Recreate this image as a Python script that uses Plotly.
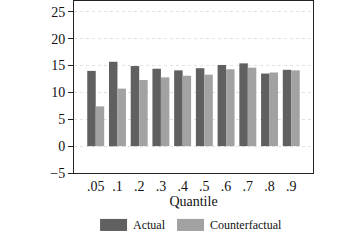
import plotly.graph_objects as go

quantiles = [".05", ".1", ".2", ".3", ".4", ".5", ".6", ".7", ".8", ".9"]
actual = [14.0, 15.7, 14.9, 14.4, 14.1, 14.5, 15.1, 15.4, 13.5, 14.2]
counterfactual = [7.4, 10.7, 12.3, 12.8, 13.1, 13.3, 14.3, 14.6, 13.7, 14.1]
series_names = ["Actual", "Counterfactual"]
colors = ["#606060", "#a2a2a2"]
y_ticks = [-5, 0, 5, 10, 15, 20, 25]

fig = go.Figure()
for name, vals, c in zip(series_names, [actual, counterfactual], colors):
    fig.add_trace(go.Bar(x=quantiles, y=vals, name=name, marker_color=c,
                         marker_line_width=0, showlegend=False))

font = dict(family="Liberation Serif, Times New Roman, serif", size=14, color="#111")
fig.update_layout(
    width=360, height=240,
    margin=dict(l=74, r=47, t=1, b=67, autoexpand=False),
    barmode="group", bargap=0.22, bargroupgap=0,
    plot_bgcolor="white", paper_bgcolor="white",
    font=font,
    showlegend=False,
    xaxis=dict(type="category", range=[-1, 10], showline=True, linecolor="#222",
               linewidth=1, mirror=True, ticks="", showgrid=False, automargin=False,
               title=dict(text="Quantile", standoff=2, font=font),
               tickfont=font),
    yaxis=dict(range=[-5, 27], tickvals=y_ticks, showline=True, linecolor="#222",
               linewidth=1, mirror=True, ticks="outside", ticklen=5, tickcolor="#222",
               showgrid=True, gridcolor="#e2e2e2", griddash="dot", gridwidth=1,
               zeroline=False, tickfont=font, automargin=False),
)

# legend swatches below the plot
sw = [(0.109, 0.222), (0.431, 0.544)]
for (x0, x1), name, c in zip(sw, series_names, colors):
    fig.add_shape(type="rect", xref="paper", yref="paper", x0=x0, x1=x1,
                  y0=-0.337, y1=-0.267, fillcolor=c, line_width=0)
    fig.add_annotation(xref="paper", yref="paper", x=x1 + 0.015, y=-0.302,
                       text=name, showarrow=False, xanchor="left", yanchor="middle",
                       font=dict(family=font["family"], size=12, color="#111"))

fig.write_html("out.html", config={"displayModeBar": False},
               post_script="document.body.style.margin='0';")
